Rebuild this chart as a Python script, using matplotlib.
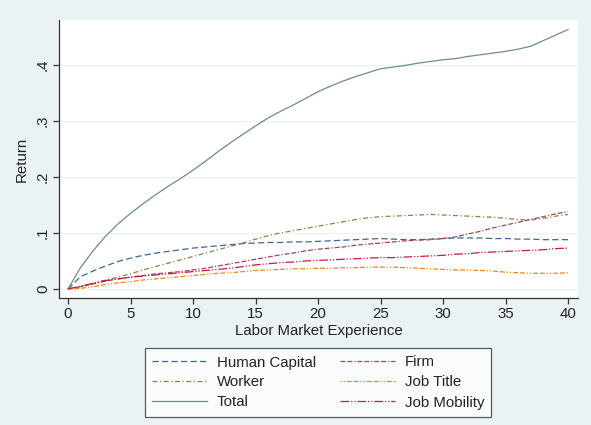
import matplotlib
matplotlib.use("Agg")
import matplotlib.pyplot as plt
import numpy as np

experience = list(range(0, 41))

human_capital = [0, 0.022, 0.032, 0.041, 0.049, 0.055, 0.060, 0.064, 0.067, 0.070, 0.073,
                 0.075, 0.077, 0.079, 0.081, 0.082, 0.083, 0.083, 0.084, 0.084, 0.085,
                 0.086, 0.087, 0.088, 0.089, 0.090, 0.089, 0.088, 0.088, 0.089, 0.090,
                 0.091, 0.091, 0.091, 0.090, 0.090, 0.089, 0.089, 0.088, 0.088, 0.088]
worker = [0, 0.004, 0.010, 0.016, 0.021, 0.027, 0.034, 0.040, 0.046, 0.052, 0.058,
          0.064, 0.070, 0.076, 0.082, 0.089, 0.095, 0.100, 0.104, 0.108, 0.112,
          0.116, 0.120, 0.124, 0.127, 0.129, 0.130, 0.131, 0.132, 0.133, 0.132,
          0.131, 0.130, 0.129, 0.128, 0.126, 0.124, 0.123, 0.126, 0.130, 0.133]
total = [0, 0.038, 0.068, 0.094, 0.116, 0.135, 0.152, 0.168, 0.183, 0.197, 0.212,
         0.228, 0.245, 0.261, 0.276, 0.291, 0.305, 0.317, 0.328, 0.340, 0.352,
         0.362, 0.371, 0.379, 0.386, 0.393, 0.396, 0.399, 0.403, 0.406, 0.409,
         0.411, 0.415, 0.418, 0.421, 0.424, 0.428, 0.433, 0.443, 0.453, 0.463]
firm = [0, 0.004, 0.009, 0.014, 0.018, 0.021, 0.024, 0.027, 0.029, 0.031, 0.034,
        0.037, 0.041, 0.045, 0.049, 0.053, 0.057, 0.061, 0.064, 0.068, 0.071,
        0.073, 0.075, 0.078, 0.080, 0.082, 0.084, 0.086, 0.087, 0.088, 0.090,
        0.093, 0.098, 0.103, 0.109, 0.114, 0.119, 0.124, 0.129, 0.134, 0.138]
job_title = [0, 0.001, 0.004, 0.008, 0.011, 0.013, 0.016, 0.018, 0.020, 0.022, 0.024,
             0.026, 0.028, 0.029, 0.031, 0.033, 0.034, 0.035, 0.036, 0.036, 0.037,
             0.037, 0.038, 0.038, 0.039, 0.039, 0.039, 0.038, 0.037, 0.036, 0.035,
             0.034, 0.034, 0.033, 0.032, 0.030, 0.029, 0.028, 0.028, 0.028, 0.029]
job_mobility = [0, 0.005, 0.010, 0.015, 0.018, 0.021, 0.023, 0.025, 0.027, 0.029, 0.031,
                0.033, 0.035, 0.037, 0.040, 0.043, 0.045, 0.047, 0.048, 0.050, 0.051,
                0.052, 0.053, 0.054, 0.055, 0.056, 0.056, 0.057, 0.058, 0.059, 0.060,
                0.062, 0.063, 0.065, 0.066, 0.067, 0.068, 0.069, 0.070, 0.072, 0.073]

x_ticks = [0, 5, 10, 15, 20, 25, 30, 35, 40]
y_ticks = [0, 0.1, 0.2, 0.3, 0.4]
y_tick_labels = ["0", ".1", ".2", ".3", ".4"]

plt.rcParams['font.family'] = ['Liberation Sans', 'DejaVu Sans']

fs = 10.8
bg = "#EAF2F3"
fig = plt.figure(figsize=(5.91, 4.25), dpi=100, facecolor=bg)
ax = fig.add_axes([59/591, 1-298/425, (578-59)/591, (298-20)/425])
ax.set_facecolor("white")

lw = 0.9
series = [
    ("Human Capital", human_capital, "#3D6795", (0, (5, 2.6))),
    ("Worker", worker, "#7B8B4A", (0, (4, 2, 1, 2))),
    ("Total", total, "#6E8E84", "-"),
    ("Firm", firm, "#A2455B", (0, (4, 1.5, 4, 1.5, 1, 1.5))),
    ("Job Title", job_title, "#E8891C", (0, (1, 1.5, 1, 1.5, 4, 1.5, 4, 1.5))),
    ("Job Mobility", job_mobility, "#CC1648", (0, (7, 1.5, 1, 1.5, 1, 1.5))),
]
handles = []
for name, vals, col, ls in series:
    h, = ax.plot(experience, vals, color=col, linestyle=ls, linewidth=lw, label=name)
    handles.append(h)

ax.set_xlim(-0.72, 40.8)
ax.set_ylim(-0.0161, 0.480)
ax.set_xticks(x_ticks)
ax.set_yticks(y_ticks)
ax.set_yticklabels(y_tick_labels, rotation=90, va="center")
ax.grid(axis="y", color=bg, linewidth=0.9)
ax.set_axisbelow(True)

for s in ["top", "right"]:
    ax.spines[s].set_visible(False)
for s in ["left", "bottom"]:
    ax.spines[s].set_color("#333333")
    ax.spines[s].set_linewidth(0.9)
ax.tick_params(direction="out", length=4, width=0.9, color="#333333",
               labelsize=fs, labelcolor="#222222", pad=2.5)

ax.set_xlabel("Labor Market Experience", fontsize=fs, color="#222222", labelpad=2)
ax.set_ylabel("Return", fontsize=fs, color="#222222", labelpad=5)

leg = fig.legend(handles=handles, ncol=2, loc="center",
                 bbox_to_anchor=(318/591, 1-382.5/425),
                 frameon=True, fancybox=False, fontsize=fs,
                 handlelength=3.67, handletextpad=0.67, columnspacing=1.6,
                 labelspacing=0.4, borderpad=0.47)
leg.get_frame().set_edgecolor("#333333")
leg.get_frame().set_linewidth(0.9)
leg.get_frame().set_facecolor("white")
for t in leg.get_texts():
    t.set_color("#222222")

fig.savefig("out.png", dpi=100, facecolor=bg)
